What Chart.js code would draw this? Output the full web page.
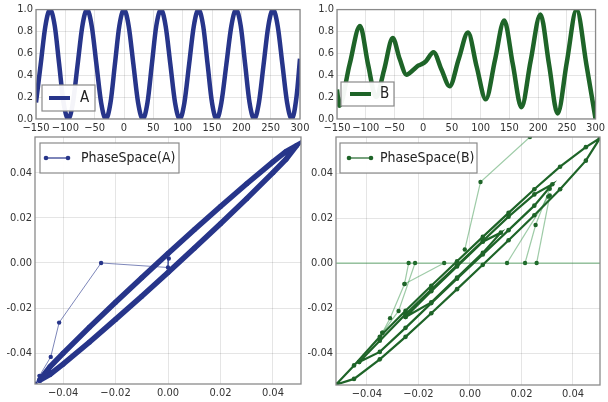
<!DOCTYPE html>
<html><head><meta charset="utf-8">
<script src="https://cdn.jsdelivr.net/npm/chart.js@4"></script>
<style>
html,body{margin:0;padding:0;background:#fff;}
#wrap{position:relative;width:608px;height:402px;overflow:hidden;}
#wrap canvas{position:absolute;left:0;top:0;}
</style></head>
<body><div id="wrap">
<canvas id="c1" width="608" height="402"></canvas>
<canvas id="c2" width="608" height="402"></canvas>
<canvas id="c3" width="608" height="402"></canvas>
<canvas id="c4" width="608" height="402"></canvas>
</div>
<script>
// ---------- data ----------
const timeTicks = [-150,-100,-50,0,50,100,150,200,250,300];
const aX = [-150,-142,-134,-126,-118,-110.5,-103,-95,-87,-79,-71,-63,-55,-47,-39,-31,-23,-15.5,-8,0,8,16,24,32,40,47.5,55,63,71,79,87,95,103,111,119,127,135,142.5,150,158,166,174.5,183,191,199,206.5,214,222,230,238,246,254,262,270,278,286,294,300];
const aY = [0.15,0.5,0.85,1,0.85,0.5,0.15,0, 0.15,0.5,0.85,1,0.85,0.5,0.15,0, 0.15,0.5,0.85,1,0.85,0.5,0.15,0, 0.15,0.5,0.85,1,0.85,0.5,0.15,0, 0.15,0.5,0.85,1,0.85,0.5,0.15,0, 0.15,0.5,0.85,1,0.85,0.5,0.15,0, 0.15,0.5,0.85,1,0.85,0.5,0.15,0, 0.2,0.55];
const bX = [-150,-146,-128,-110,-96,-82,-68,-53,-41,-29,-17,-8,-3,5,18,32,46,62,78,93,109,125,141,156,171,187,204,219,234,250,267,284,300];
const bY = [0.27,0.12,0.5,0.85,0.5,0.2,0.45,0.74,0.55,0.405,0.45,0.49,0.5,0.53,0.61,0.45,0.30,0.55,0.79,0.48,0.18,0.54,0.90,0.5,0.108,0.53,0.956,0.5,0.05,0.52,1.0,0.5,0.0];

const paX = [-0.049,-0.045,-0.04,-0.03,-0.02,-0.01,0,0.01,0.02,0.03,0.04,0.045,0.049,0.045,0.04,0.03,0.02,0.01,0,-0.01,-0.02,-0.03,-0.04,-0.045,-0.049];
const paY = [-0.052,-0.046,-0.040,-0.0285,-0.0174,-0.0065,0.0042,0.0147,0.025,0.0351,0.0448,0.0494,0.052,0.046,0.040,0.0285,0.0174,0.0065,-0.0042,-0.0147,-0.025,-0.0351,-0.0448,-0.0494,-0.052];
const transA = [[0.0003,0.002],[0.0,-0.002],[-0.0255,0.0],[-0.0415,-0.0264],[-0.0447,-0.0416],[-0.049,-0.05],[-0.0505,-0.0535]];

const pb1X = [-0.052,-0.045,-0.035,-0.025,-0.015,-0.005,0.005,0.015,0.025,0.035,0.045,0.0505,0.045,0.035,0.025,0.015,0.005,-0.005,-0.015,-0.025,-0.035,-0.045,-0.052];
const pb1Y = [-0.054,-0.0455,-0.0328,-0.0212,-0.0101,0.0008,0.0116,0.0223,0.0328,0.0428,0.0515,0.0555,0.0455,0.0328,0.0212,0.0101,-0.0008,-0.0116,-0.0223,-0.0328,-0.0428,-0.0515,-0.054];
const pb2X = [-0.043,-0.035,-0.025,-0.015,-0.005,0.005,0.015,0.025,0.032,0.025,0.015,0.005,-0.005,-0.015,-0.025,-0.035,-0.043];
const pb2Y = [-0.044,-0.0345,-0.0228,-0.0118,-0.001,0.0098,0.0206,0.0305,0.035,0.0255,0.0146,0.0038,-0.007,-0.0178,-0.0288,-0.0395,-0.044];
const pb3X = [-0.025,-0.015,-0.005,0.005,0.012,0.005,-0.005,-0.015,-0.025];
const pb3Y = [-0.024,-0.0125,-0.0015,0.0095,0.0135,0.0045,-0.0065,-0.0175,-0.024];
const zeroLineB = [[-0.052,0],[0.0505,0]];
const transB1 = [[-0.0238,0],[-0.0254,-0.0093],[-0.031,-0.0245],[-0.034,-0.031]];
const transB2 = [[-0.0213,0],[-0.0277,-0.0213],[-0.034,-0.031]];
const transB3 = [[-0.01,0],[-0.0254,-0.0093]];
const transB4 = [[0.0144,0],[0.0304,0.0295]];
const transB5 = [[0.0214,0],[0.0255,0.0169],[0.031,0.033]];
const transB6 = [[0.0259,0],[0.031,0.030]];
const transB7 = [[-0.002,0.006],[0.0041,0.036],[0.0233,0.056]];

// ---------- helpers ----------
const zip = (xs, ys) => xs.map((x, i) => ({x, y: ys[i]}));
const pairs = p => p.map(([x, y]) => ({x, y}));
const BLUE = '#27358a', GREEN = '#1e6428';
Chart.defaults.font.family = "'DejaVu Sans Condensed','DejaVu Sans',sans-serif";
Chart.defaults.font.size = 11;
Chart.defaults.color = '#333';

const frameLegend = {
  id: 'frameLegend',
  afterDatasetsDraw(chart, args, o) {
    const {ctx, chartArea: a} = chart;
    ctx.save();
    ctx.strokeStyle = '#8a8a8a'; ctx.lineWidth = 1.3;
    ctx.strokeRect(a.left, a.top, a.right - a.left, a.bottom - a.top);
    const L = o;
    ctx.fillStyle = 'rgba(255,255,255,0.95)';
    ctx.fillRect(L.x, L.y, L.w, L.h);
    ctx.strokeStyle = '#8a8a8a'; ctx.lineWidth = 1.2;
    ctx.strokeRect(L.x, L.y, L.w, L.h);
    ctx.strokeStyle = L.color; ctx.lineWidth = L.lw;
    ctx.beginPath(); ctx.moveTo(L.x1, L.ly); ctx.lineTo(L.x2, L.ly); ctx.stroke();
    if (L.markers) {
      ctx.fillStyle = L.color;
      [L.x1, L.x2].forEach(px => { ctx.beginPath(); ctx.arc(px, L.ly, 2.3, 0, Math.PI * 2); ctx.fill(); });
    }
    ctx.fillStyle = '#222';
    ctx.font = L.fs + "px 'DejaVu Sans Condensed','DejaVu Sans',sans-serif";
    ctx.textBaseline = 'middle';
    ctx.fillText(chart.data.datasets[0].label, L.tx, L.ly);
    ctx.restore();
  }
};

function scales(xmin, xmax, xstep, xdec, ymin, ymax, ystep, ydec) {
  return {
    x: { type: 'linear', min: xmin, max: xmax,
      afterFit: s => { s.height = 16; },
      grid: { color: 'rgba(0,0,0,0.1)', drawTicks: false },
      border: { display: false },
      ticks: { stepSize: xstep, includeBounds: false, padding: 3, maxRotation: 0, autoSkip: false,
        callback: v => { const t = Math.abs(v) < 1e-9 ? (0).toFixed(xdec) : v.toFixed(xdec); return t.replace('-', '\u2212'); } } },
    y: { type: 'linear', min: ymin, max: ymax,
      afterFit: s => { s.width = 36; },
      grid: { color: 'rgba(0,0,0,0.1)', drawTicks: false },
      border: { display: false },
      ticks: { stepSize: ystep, includeBounds: false, padding: 3, autoSkip: false,
        callback: v => Math.abs(v) < 1e-9 ? (0).toFixed(ydec) : v.toFixed(ydec) } }
  };
}

function make(id, datasets, sc, padding, legend) {
  return new Chart(document.getElementById(id), {
    type: 'scatter',
    data: { datasets },
    options: {
      responsive: false, animation: false, events: [],
      layout: { padding },
      scales: sc,
      plugins: { legend: { display: false }, tooltip: { enabled: false }, frameLegend: legend }
    },
    plugins: [frameLegend]
  });
}

// Top-left: A
make('c1', [
  { label: 'A', data: zip(aX, aY), showLine: true, borderColor: BLUE, borderWidth: 4.5, pointRadius: 0, cubicInterpolationMode: 'monotone' }
], scales(-150, 300, 50, 0, 0, 1, 0.2, 1), {left: 0, top: 5, right: 308, bottom: 267},
{ x: 42, y: 85, w: 53, h: 26, x1: 49, x2: 70, ly: 98, tx: 80, color: BLUE, lw: 4, markers: false, fs: 15 });

// Top-right: B
make('c2', [
  { label: 'B', data: zip(bX, bY), showLine: true, borderColor: GREEN, borderWidth: 4.5, pointRadius: 0, cubicInterpolationMode: 'monotone' }
], scales(-150, 300, 50, 0, 0, 1, 0.2, 1), {left: 301, top: 5, right: 7, bottom: 267},
{ x: 341, y: 82, w: 53, h: 24, x1: 350, x2: 371, ly: 94, tx: 380, color: GREEN, lw: 4, markers: false, fs: 15 });

// Bottom-left: PhaseSpace(A)
make('c3', [
  { label: 'PhaseSpace(A)', data: zip(paX, paY), showLine: true, borderColor: BLUE, borderWidth: 5.5, pointRadius: 2.5, pointBackgroundColor: BLUE, pointBorderWidth: 0 },
  { label: 't', data: pairs(transA), showLine: true, borderColor: 'rgba(39,53,138,0.6)', borderWidth: 1, pointRadius: 2.2, pointBackgroundColor: BLUE, pointBorderWidth: 0 }
], scales(-0.0507, 0.0507, 0.02, 2, -0.0536, 0.0558, 0.02, 2), {left: -1, top: 137, right: 307, bottom: 2},
{ x: 40, y: 143, w: 139, h: 30, x1: 46, x2: 68, ly: 158, tx: 81, color: BLUE, lw: 1.2, markers: true, fs: 14 });

// Bottom-right: PhaseSpace(B)
const tStyle = { showLine: true, borderColor: 'rgba(40,140,60,0.45)', borderWidth: 1.2, pointRadius: 2.2, pointBackgroundColor: GREEN, pointBorderWidth: 0 };
make('c4', [
  { label: 'PhaseSpace(B)', data: zip(pb1X, pb1Y), showLine: true, borderColor: GREEN, borderWidth: 2.2, pointRadius: 2.3, pointBackgroundColor: GREEN, pointBorderWidth: 0 },
  { label: 'b2', data: zip(pb2X, pb2Y), showLine: true, borderColor: GREEN, borderWidth: 2.2, pointRadius: 2.3, pointBackgroundColor: GREEN, pointBorderWidth: 0 },
  { label: 'b3', data: zip(pb3X, pb3Y), showLine: true, borderColor: GREEN, borderWidth: 2.2, pointRadius: 2.3, pointBackgroundColor: GREEN, pointBorderWidth: 0 },
  { label: 'z', data: pairs(zeroLineB), showLine: true, borderColor: 'rgba(40,140,60,0.55)', borderWidth: 1.2, pointRadius: 0 },
  { label: 't1', data: pairs(transB1), ...tStyle },
  { label: 't2', data: pairs(transB2), ...tStyle },
  { label: 't3', data: pairs(transB3), ...tStyle },
  { label: 't4', data: pairs(transB4), ...tStyle },
  { label: 't5', data: pairs(transB5), ...tStyle },
  { label: 't6', data: pairs(transB6), ...tStyle },
  { label: 't7', data: pairs(transB7), ...tStyle }
], scales(-0.052, 0.0505, 0.02, 2, -0.0542, 0.056, 0.02, 2), {left: 300, top: 137, right: 8, bottom: 1},
{ x: 340, y: 143, w: 137, h: 30, x1: 349, x2: 371, ly: 158, tx: 380, color: GREEN, lw: 1.2, markers: true, fs: 14 });
</script>
</body></html>
